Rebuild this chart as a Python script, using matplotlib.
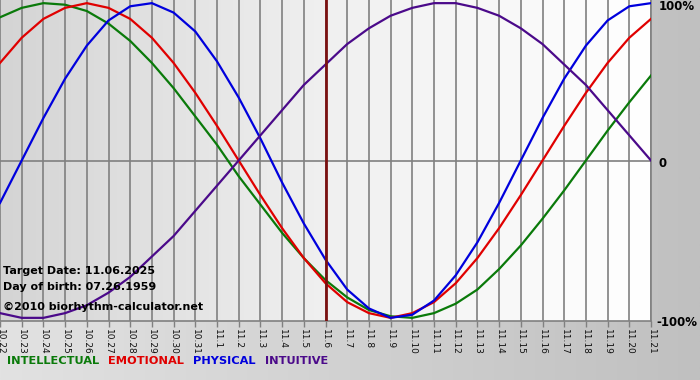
import matplotlib
matplotlib.use("Agg")
import matplotlib.pyplot as plt
import numpy as np
from matplotlib.colors import LinearSegmentedColormap

# Dates shown along the bottom (month.day)
days = ["10.22", "10.23", "10.24", "10.25", "10.26", "10.27", "10.28", "10.29",
        "10.30", "10.31", "11.1", "11.2", "11.3", "11.4", "11.5", "11.6", "11.7",
        "11.8", "11.9", "11.10", "11.11", "11.12", "11.13", "11.14", "11.15",
        "11.16", "11.17", "11.18", "11.19", "11.20", "11.21"]

# Cycle values (-1 .. 1)
intellectual = [0.91, 0.97, 1.00, 0.99, 0.95, 0.87, 0.76, 0.62, 0.46, 0.28, 0.10,
                -0.10, -0.28, -0.46, -0.62, -0.76, -0.87, -0.95, -0.99, -1.00, -0.97,
                -0.91, -0.82, -0.69, -0.54, -0.37, -0.19, 0.00, 0.19, 0.37, 0.54]
emotional = [0.62, 0.78, 0.90, 0.97, 1.00, 0.97, 0.90, 0.78, 0.62, 0.43, 0.22,
             0.00, -0.22, -0.43, -0.62, -0.78, -0.90, -0.97, -1.00, -0.97, -0.90,
             -0.78, -0.62, -0.43, -0.22, 0.00, 0.22, 0.43, 0.62, 0.78, 0.90]
physical = [-0.27, 0.00, 0.27, 0.52, 0.73, 0.89, 0.98, 1.00, 0.94, 0.82, 0.63,
            0.40, 0.14, -0.14, -0.40, -0.63, -0.82, -0.94, -1.00, -0.98, -0.89,
            -0.73, -0.52, -0.27, 0.00, 0.27, 0.52, 0.73, 0.89, 0.98, 1.00]
intuitive = [-0.97, -1.00, -1.00, -0.97, -0.92, -0.84, -0.74, -0.61, -0.48, -0.32, -0.16,
             0.00, 0.16, 0.32, 0.48, 0.61, 0.74, 0.84, 0.92, 0.97, 1.00,
             1.00, 0.97, 0.92, 0.84, 0.74, 0.61, 0.48, 0.32, 0.16, 0.00]

target_idx = 15  # 11.6
target_text = "Target Date: 11.06.2025"
birth_text = "Day of birth: 07.26.1959"
copy_text = "\u00a92010 biorhythm-calculator.net"

names = ["INTELLECTUAL", "EMOTIONAL", "PHYSICAL", "INTUITIVE"]
colors = ["#0a7a0a", "#e00000", "#0000dd", "#4b0a8a"]
series = [intellectual, emotional, physical, intuitive]

fig = plt.figure(figsize=(7, 3.8), dpi=100)

# figure background gradient
bg = fig.add_axes([0, 0, 1, 1], zorder=-10)
bg_cmap = LinearSegmentedColormap.from_list("bg", ["#e2e2e2", "#c0c0c0"])
bg.imshow(np.linspace(0, 1, 256).reshape(1, -1), aspect="auto", cmap=bg_cmap,
          extent=[0, 1, 0, 1])
bg.axis("off")

ax = fig.add_axes([0, 59 / 380, 651 / 700, 321 / 380])
x = np.arange(len(days))
ax.set_xlim(0, len(days) - 1)
ax.set_ylim(-1.02, 1.02)

plot_cmap = LinearSegmentedColormap.from_list("pl", ["#d4d4d4", "#f0f0f0", "#ffffff"])
ax.imshow(np.linspace(0, 1, 256).reshape(1, -1), aspect="auto", cmap=plot_cmap,
          extent=[0, len(days) - 1, -1.02, 1.02], zorder=0)

for xi in x:
    ax.axvline(xi, color="#808080", lw=1.2, zorder=1)
ax.axhline(0, color="#808080", lw=1.2, zorder=1)

for s, c in zip(series, colors):
    ax.plot(x, s, color=c, lw=1.6, zorder=3, solid_joinstyle="round")

ax.axvline(target_idx, color="#7a1010", lw=2.0, zorder=4)

for sp in ["top", "left"]:
    ax.spines[sp].set_visible(False)
for sp in ["bottom", "right"]:
    ax.spines[sp].set_color("#808080")
    ax.spines[sp].set_linewidth(1.2)

ax.set_xticks(x)
ax.set_xticklabels(days, rotation=270, fontsize=6.5, color="#111111")
ax.tick_params(axis="x", length=4, width=1, color="#808080", pad=1.5)
ax.set_yticks([])

# right-side value labels
tr = ax.get_yaxis_transform()
ax.text(1.012, 1.02, "100%", transform=tr, va="top", ha="left",
        fontsize=8.5, fontweight="bold", clip_on=False)
ax.text(1.012, -0.02, "0", transform=tr, va="center", ha="left",
        fontsize=8.5, fontweight="bold", clip_on=False)
ax.text(1.008, -1.03, "-100%", transform=tr, va="center", ha="left",
        fontsize=8.5, fontweight="bold", clip_on=False)

# info text inside the plot
ax.text(0.004, 0.156, target_text, transform=ax.transAxes, fontsize=8,
        fontweight="bold", va="center", zorder=5)
ax.text(0.004, 0.106, birth_text, transform=ax.transAxes, fontsize=8,
        fontweight="bold", va="center", zorder=5)
ax.text(0.004, 0.044, copy_text, transform=ax.transAxes, fontsize=8,
        fontweight="bold", va="center", zorder=5)

# coloured legend words along the bottom
fig.canvas.draw()
renderer = fig.canvas.get_renderer()
xpos = 7
for n, c in zip(names, colors):
    t = fig.text(xpos / 700, 1 - 361 / 380, n, color=c, fontsize=8.2,
                 fontweight="bold", va="center", ha="left")
    w = t.get_window_extent(renderer).width
    xpos += w + 9

fig.savefig("out.png", dpi=100)
